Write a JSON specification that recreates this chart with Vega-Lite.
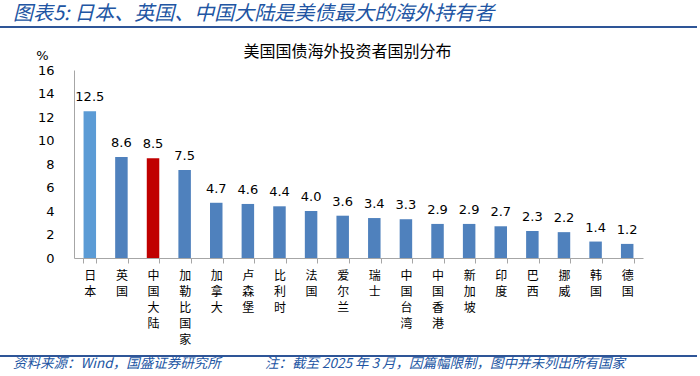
{
  "$schema": "https://vega.github.io/schema/vega-lite/v6.json",
  "width": 569,
  "height": 188,
  "autosize": {"type": "none"},
  "padding": {"left": 74, "top": 70, "right": 57, "bottom": 118},
  "background": "white",
  "config": {"view": {"stroke": null}},
  "data": {
    "values": [
      {"country": "日本", "value": 12.5},
      {"country": "英国", "value": 8.6},
      {"country": "中国大陆", "value": 8.5},
      {"country": "加勒比国家", "value": 7.5},
      {"country": "加拿大", "value": 4.7},
      {"country": "卢森堡", "value": 4.6},
      {"country": "比利时", "value": 4.4},
      {"country": "法国", "value": 4.0},
      {"country": "爱尔兰", "value": 3.6},
      {"country": "瑞士", "value": 3.4},
      {"country": "中国台湾", "value": 3.3},
      {"country": "中国香港", "value": 2.9},
      {"country": "新加坡", "value": 2.9},
      {"country": "印度", "value": 2.7},
      {"country": "巴西", "value": 2.3},
      {"country": "挪威", "value": 2.2},
      {"country": "韩国", "value": 1.4},
      {"country": "德国", "value": 1.2}
    ]
  },
  "encoding": {
    "x": {
      "field": "country",
      "type": "nominal",
      "sort": null,
      "scale": {"paddingInner": 0.6, "paddingOuter": 0.3},
      "axis": {
        "title": null,
        "labelAngle": 0,
        "labelExpr": "split(datum.label, '')",
        "labelFont": "Noto Sans CJK SC",
        "labelFontSize": 12,
        "labelColor": "#000000",
        "labelLineHeight": 16,
        "labelBaseline": "top",
        "labelPadding": 7,
        "tickBand": "extent",
        "tickSize": 5,
        "tickColor": "#A6A6A6",
        "domainColor": "#A6A6A6",
        "labelOverlap": false
      }
    },
    "y": {
      "field": "value",
      "type": "quantitative",
      "scale": {"domain": [0, 16], "nice": false},
      "axis": {
        "values": [0, 2, 4, 6, 8, 10, 12, 14, 16],
        "grid": false,
        "ticks": false,
        "domainColor": "#A6A6A6",
        "labelFont": "DejaVu Sans",
        "labelFontSize": 13,
        "labelColor": "#000000",
        "labelPadding": 20,
        "title": "%",
        "titleAngle": 0,
        "titleX": -32,
        "titleY": -15,
        "titleAlign": "center",
        "titleBaseline": "middle",
        "titleFont": "DejaVu Sans",
        "titleFontSize": 13,
        "titleFontWeight": "normal",
        "titleColor": "#000000"
      }
    }
  },
  "layer": [
    {
      "mark": {"type": "bar", "width": 12.5},
      "encoding": {
        "color": {
          "condition": [
            {"test": "datum.country === '日本'", "value": "#5B9BD5"},
            {"test": "datum.country === '中国大陆'", "value": "#C00000"}
          ],
          "value": "#4F81BD"
        }
      }
    },
    {
      "mark": {"type": "text", "baseline": "alphabetic", "dy": -10, "font": "DejaVu Sans", "fontSize": 13, "color": "#000000"},
      "encoding": {
        "text": {"field": "value", "type": "quantitative", "format": ".1f"}
      }
    },
    {
      "data": {"values": [{"t": "图表5:  日本、英国、中国大陆是美债最大的海外持有者"}]},
      "mark": {"type": "text", "align": "left", "baseline": "middle", "font": "Noto Sans CJK SC", "fontSize": 20, "fontStyle": "italic", "color": "#2155A3"},
      "encoding": {"x": {"value": -61}, "y": {"value": -56}, "text": {"field": "t"}}
    },
    {
      "data": {"values": [{}]},
      "mark": {"type": "rule", "color": "#2E5597", "strokeWidth": 2},
      "encoding": {"x": {"value": -74}, "x2": {"value": 623}, "y": {"value": -43}}
    },
    {
      "data": {"values": [{"t": "美国国债海外投资者国别分布"}]},
      "mark": {"type": "text", "align": "center", "baseline": "middle", "font": "Noto Sans CJK SC", "fontSize": 16, "color": "#000000"},
      "encoding": {"x": {"value": 273.5}, "y": {"value": -18}, "text": {"field": "t"}}
    },
    {
      "data": {"values": [{}]},
      "mark": {"type": "rule", "color": "#2E5597", "strokeWidth": 2},
      "encoding": {"x": {"value": -74}, "x2": {"value": 623}, "y": {"value": 286}}
    },
    {
      "data": {"values": [{"t": "资料来源：Wind，国盛证券研究所", "px": -61}, {"t": "注：截至 2025 年 3 月，因篇幅限制，图中并未列出所有国家", "px": 191}]},
      "mark": {"type": "text", "align": "left", "baseline": "middle", "font": "Noto Sans CJK SC", "fontSize": 13.5, "fontStyle": "italic", "color": "#2155A3"},
      "encoding": {"x": {"field": "px", "type": "quantitative", "scale": null}, "y": {"value": 294}, "text": {"field": "t"}}
    }
  ]
}
